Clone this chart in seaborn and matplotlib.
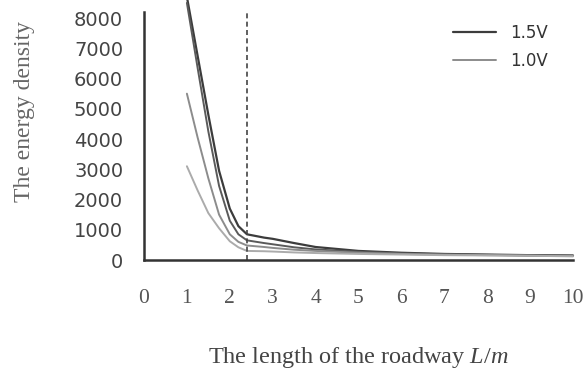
import numpy as np
import pandas as pd
import matplotlib
matplotlib.use("Agg")
import matplotlib.pyplot as plt
import seaborn as sns

# distance along the roadway (m)
x_left = [1.0, 1.25, 1.5, 1.75, 2.0, 2.2, 2.4]
x_right = [2.4, 2.8, 3.0, 3.5, 4.0, 5.0, 6.0, 7.0, 8.0, 9.0, 10.0]

# energy density, four curves
dark_outer_l = [8700, 6750, 4800, 2950, 1700, 1120, 850]
dark_outer_r = [850, 740, 700, 560, 430, 300, 240, 200, 180, 160, 150]
dark_inner_l = [8500, 6350, 4250, 2450, 1300, 850, 650]
dark_inner_r = [650, 560, 520, 420, 350, 270, 220, 190, 170, 150, 140]
medium_l = [5500, 4050, 2700, 1500, 850, 600, 480]
medium_r = [480, 430, 400, 340, 300, 240, 200, 175, 160, 145, 130]
light_l = [3100, 2300, 1550, 1050, 620, 420, 300]
light_r = [300, 290, 280, 250, 230, 200, 180, 160, 150, 140, 120]

series = [
    ("1.5V", dark_outer_l + dark_outer_r[1:], "#3c3c3c", 1.6),
    ("_a", dark_inner_l + dark_inner_r[1:], "#5a5a5a", 1.4),
    ("1.0V", medium_l + medium_r[1:], "#8c8c8c", 1.4),
    ("_b", light_l + light_r[1:], "#ababab", 1.4),
]
x_all = x_left + x_right[1:]
boundary = 2.4

sns.set_style("white")
plt.rcParams["font.family"] = ["DejaVu Sans"]
plt.rcParams["mathtext.fontset"] = "custom"
plt.rcParams["mathtext.it"] = "Liberation Serif:italic"
plt.rcParams["mathtext.rm"] = "Liberation Serif"

fig = plt.figure(figsize=(5.84, 3.72), dpi=100)
ax = fig.add_axes([144 / 584, 1 - 260 / 372, 429 / 584, 248 / 372])

for label, vals, color, lw in series:
    df = pd.DataFrame({"L": x_all, "E": vals})
    sns.lineplot(data=df, x="L", y="E", ax=ax, color=color, linewidth=lw,
                 label=label, clip_on=False, sort=False)

ax.axvline(boundary, color="#444444", linewidth=1.2, linestyle=(0, (3, 2)))

ax.set_xlim(0, 10)
ax.set_ylim(0, 8200)
ax.set_xticks(range(0, 11))
ax.set_yticks(range(0, 8001, 1000))

for s in ["top", "right"]:
    ax.spines[s].set_visible(False)
for s in ["left", "bottom"]:
    ax.spines[s].set_color("#333333")
    ax.spines[s].set_linewidth(1.8)

ax.tick_params(axis="x", direction="in", length=5, width=1.5, color="#333333",
               pad=21, labelsize=15.5, labelcolor="#555555")
ax.tick_params(axis="y", direction="in", length=5, width=1.5, color="#333333",
               pad=15, labelsize=14, labelcolor="#444444")
for t in ax.get_xticklabels():
    t.set_fontfamily("Liberation Serif")

ax.set_xlabel("")
ax.set_ylabel("")
fig.text(25 / 584, 1 - 112 / 372, "The energy density", rotation=90,
         ha="center", va="center", fontsize=17, color="#666666",
         family="Liberation Serif")
fig.text(358 / 584, 1 - 357 / 372,
         "The length of the roadway $\\mathit{L/m}$",
         ha="center", va="center", fontsize=17.5, color="#444444",
         family="Liberation Serif")

handles, labels = ax.get_legend_handles_labels()
ax.legend(handles, labels, loc="upper left", bbox_to_anchor=(438 / 584, 1 - 9 / 372),
          bbox_transform=fig.transFigure, frameon=False, fontsize=12,
          handlelength=2.6, labelspacing=0.6, labelcolor="#333333")

fig.savefig("out.png", dpi=100)
